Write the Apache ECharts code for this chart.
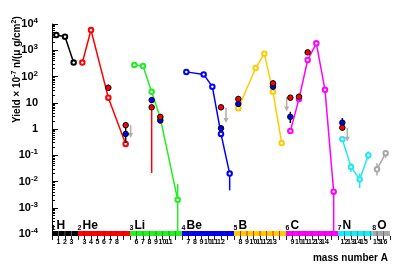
<!DOCTYPE html>
<html><head><meta charset="utf-8">
<script src="https://cdn.jsdelivr.net/npm/echarts@6/dist/echarts.min.js"></script>
<style>html,body{margin:0;padding:0;background:#fff}#c{width:417px;height:266px}</style>
</head><body><div id="c"></div>
<script>
// ---- elements ----
const elementSymbols = ['H','He','Li','Be','B','C','N','O'];
const elementZ = [1,2,3,4,5,6,7,8];
const firstMass = [1,3,6,7,8,9,12,15];
const lastMass = [3,8,11,12,13,14,15,16];
const elementColors = ['#000000','#ff0000','#22ee22','#0000ff','#ffcc00','#ff00ff','#22e8f2','#a8a8a8'];
const stripeColors = ['#555555','#c00000','#11b011','#000099','#ee2200','#c000c0','#11a8b0','#707070'];

// ---- model curves [mass, yield] ----
const curveH  = [[1,3800],[2,3300],[3,340]];
const curveHe = [[3,340],[4,5900],[6,15.6],[8,0.27]];
const curveLi = [[6,275],[7,250],[8,26],[9,2.6],[11,0.002]];
const curveBe = [[7,150],[9,120],[10,41],[11,0.65],[12,0.02]];
const curveB  = [[8,6.2],[10,210],[11,740],[12,26],[13,0.29]];
const curveC  = [[9,0.83],[10,14],[11,425],[12,1830],[13,31],[14,0.0041]];
const curveN  = [[12,0.41],[13,0.036],[14,0.012],[15,0.10]];
const curveO  = [[15,0.029],[16,0.12]];
const curves = [curveH, curveHe, curveLi, curveBe, curveB, curveC, curveN, curveO];

// model error bars
const curveErrEl   = ['Li','Be','C','N','N','N','O','O'];
const curveErrMass = [11,12,14,13,14,15,15,16];
const curveErrLow  = [1e-4,0.0046,1e-4,0.023,0.0055,0.07,0.017,0.08];
const curveErrHigh = [0.008,0.025,0.0041,0.05,0.02,0.14,0.05,0.16];

// measured (red)
const redEl    = ['He','He','Li','Li','Be','B','B','C','C','C','N'];
const redMass  = [6,8,8,9,11,8,12,9,10,11,12];
const redYield = [37,1.4,6.7,2.9,6.7,14,55,15.6,17,830,1.12];
// red error bars
const redErrEl   = ['Li','He','B'];
const redErrMass = [8,6,8];
const redErrLow  = [0.021,28,14];
const redErrHigh = [6.7,50,18];

// measured (blue)
const blueEl    = ['He','Li','Li','Be','B','B','C','N'];
const blueMass  = [8,8,9,11,8,12,9,12];
const blueYield = [0.65,12.6,2.1,1.07,9,41,2.9,1.74];

// black error bars
const errEl   = ['He','B','C','N','Li'];
const errMass = [8,8,9,12,8];
const errLow  = [0.3,7,1.7,0.9,10];
const errHigh = [1.8,16,4.5,2.6,15];

// upper limits (grey arrows)
const limitEl   = ['He','Be','B','N'];
const limitMass = [8,11,13,12];
const limitTop  = [1.4,6.3,16.6,1.1];
const limitTip  = [0.45,1.7,4.6,0.33];

// ---- positions ----
const segStart = [];
let acc = 0;
for (let i = 0; i < elementSymbols.length; i++) { segStart.push(acc); acc += lastMass[i] - firstMass[i] + 1; }
const xMax = acc;
function idx(el) { return elementSymbols.indexOf(el); }
function pos(i, A) { return segStart[i] + A - firstMass[i] + 0.5; }

// x tick labels on slot grid (0.75 units)
const slotW = 0.75;
const slotLabels = {};
for (let i = 0; i < elementSymbols.length; i++) {
  const s0 = Math.floor(segStart[i] / slotW + 1e-6);
  for (let A = firstMass[i]; A <= lastMass[i]; A++) slotLabels[s0 + 1 + A - firstMass[i]] = String(A);
}

const FONT = '"Liberation Sans", Arial, sans-serif';
const series = [];

// element colour bar + labels
series.push({
  type: 'custom', xAxisIndex: 0, yAxisIndex: 0, clip: false, z: 1, silent: true,
  data: elementSymbols.map((s, i) => [segStart[i], segStart[i] + lastMass[i] - firstMass[i] + 1, i]),
  renderItem: function (params, api) {
    const i = api.value(2);
    const a = api.coord([api.value(0), 1e-4]);
    const b = api.coord([api.value(1), 1e-4]);
    const y = a[1];
    const ch = [{ type: 'rect', shape: { x: a[0], y: y - 3, width: b[0] - a[0], height: 5 }, style: { fill: elementColors[i] } }];
    for (let s = Math.ceil(api.value(0) / slotW); s * slotW < api.value(1); s++) {
      const p = api.coord([s * slotW, 1e-4]);
      if (p[0] - a[0] < 1) continue;
      ch.push({ type: 'line', shape: { x1: p[0], y1: y - 3, x2: p[0], y2: y + 2 }, style: { stroke: stripeColors[i], lineWidth: 1 } });
    }
    ch.push({ type: 'text', style: { text: elementSymbols[i], x: a[0] + 4.5, y: y - 2.5, verticalAlign: 'bottom', align: 'left', font: 'bold 12px ' + FONT, fill: '#000' } });
    ch.push({ type: 'text', style: { text: String(elementZ[i]), x: a[0] - 0.5, y: y - 2, verticalAlign: 'bottom', align: 'left', font: 'bold 7px ' + FONT, fill: '#000' } });
    return { type: 'group', children: ch };
  }
});

// model curves
curves.forEach((c, i) => {
  series.push({
    type: 'line', xAxisIndex: 0, yAxisIndex: 0, z: 3,
    data: c.map(d => [pos(i, d[0]), d[1]]),
    symbol: 'emptyCircle', symbolSize: 4.5, showSymbol: true,
    lineStyle: { color: elementColors[i], width: 1.5 },
    itemStyle: { color: elementColors[i], borderColor: elementColors[i], borderWidth: 1 },
    emphasis: { disabled: true }, animation: false
  });
});

function vbar(dataArr, colorFn, width, z) {
  return {
    type: 'custom', xAxisIndex: 0, yAxisIndex: 0, z: z, silent: true,
    data: dataArr,
    renderItem: function (params, api) {
      const p1 = api.coord([api.value(0), api.value(1)]);
      const p2 = api.coord([api.value(0), api.value(2)]);
      return { type: 'line', shape: { x1: p1[0], y1: p1[1], x2: p2[0], y2: p2[1] }, style: { stroke: colorFn(api.value(3)), lineWidth: width } };
    }
  };
}
series.push(vbar(curveErrEl.map((e, k) => [pos(idx(e), curveErrMass[k]), curveErrLow[k], curveErrHigh[k], idx(e)]), c => elementColors[c], 1.5, 2));
series.push(vbar(redErrEl.map((e, k) => [pos(idx(e), redErrMass[k]), redErrLow[k], redErrHigh[k], 0]), () => '#ff0000', 1.5, 4));
series.push(vbar(errEl.map((e, k) => [pos(idx(e), errMass[k]), errLow[k], errHigh[k], 0]), () => '#000000', 1.5, 4));

// measured points
series.push({
  type: 'scatter', xAxisIndex: 0, yAxisIndex: 0, z: 6, symbolSize: 5.5,
  data: blueEl.map((e, k) => [pos(idx(e), blueMass[k]), blueYield[k]]),
  itemStyle: { color: '#0000ff', borderColor: '#000', borderWidth: 1, opacity: 1 }
});
series.push({
  type: 'scatter', xAxisIndex: 0, yAxisIndex: 0, z: 7, symbolSize: 5.5,
  data: redEl.map((e, k) => [pos(idx(e), redMass[k]), redYield[k]]),
  itemStyle: { color: '#ff0000', borderColor: '#000', borderWidth: 1, opacity: 1 }
});

// upper limits
series.push({
  type: 'custom', xAxisIndex: 0, yAxisIndex: 0, z: 5, silent: true,
  data: limitEl.map((e, k) => [pos(idx(e), limitMass[k]), limitTop[k], limitTip[k]]),
  renderItem: function (params, api) {
    const p1 = api.coord([api.value(0), api.value(1)]);
    const p2 = api.coord([api.value(0), api.value(2)]);
    const x = p1[0] + 5;
    return { type: 'group', children: [
      { type: 'line', shape: { x1: x, y1: p1[1], x2: x, y2: p2[1] - 4 }, style: { stroke: '#b5aca4', lineWidth: 1.5 } },
      { type: 'polygon', shape: { points: [[x - 2.5, p2[1] - 5], [x + 2.5, p2[1] - 5], [x, p2[1]]] }, style: { fill: '#b5aca4' } }
    ] };
  }
});

const chart = echarts.init(document.getElementById('c'), null, { renderer: 'canvas' });
chart.setOption({
  animation: false,
  backgroundColor: '#fff',
  grid: { left: 52, right: 27, top: 24, bottom: 32, containLabel: false },
  xAxis: [
    { type: 'value', min: 0, max: xMax, show: false },
    { type: 'value', min: 0, max: xMax, interval: slotW, position: 'bottom', offset: 2,
      axisLine: { show: false }, splitLine: { show: false },
      axisTick: { show: true, length: 4, lineStyle: { color: '#222', width: 1 } },
      axisLabel: { show: true, margin: 3, fontSize: 7, fontWeight: 'bold', fontFamily: FONT, color: '#000', hideOverlap: false,
        formatter: function (v) { const s = Math.round(v / slotW); return slotLabels[s] || ''; } } }
  ],
  yAxis: {
    type: 'log', logBase: 10, min: 1e-4, max: 1e4,
    axisLine: { show: true, lineStyle: { color: '#000', width: 1 } },
    axisTick: { show: true, inside: true, length: 6, lineStyle: { color: '#000' } },
    minorTick: { show: true, splitNumber: 9, length: 3, lineStyle: { color: '#000' } },
    splitLine: { show: false },
    axisLabel: {
      margin: 14, fontFamily: FONT, fontWeight: 'bold', fontSize: 11, color: '#000',
      formatter: function (v) {
        const e = Math.round(Math.log10(v));
        if (e === 0) return '1';
        if (e === 1) return '10';
        return '10{s|' + e + '}';
      },
      rich: { s: { fontSize: 8, fontWeight: 'bold', fontFamily: FONT, verticalAlign: 'top', padding: [0, 0, 6, 0] } }
    }
  },
  graphic: [
    { type: 'text', x: 17, y: 123, rotation: Math.PI / 2,
      style: { text: 'Yield × 10{s|-7} n/(μ g/cm{s|2})', font: 'bold 10px ' + FONT, fill: '#000', verticalAlign: 'middle', align: 'left',
        rich: { s: { fontSize: 7, fontWeight: 'bold', fontFamily: FONT, padding: [0, 0, 5, 0] } } } },
    { type: 'text', right: 29, top: 253,
      style: { text: 'mass number A', font: 'bold 10px ' + FONT, fill: '#000' } }
  ],
  series: series
});
</script></body></html>
